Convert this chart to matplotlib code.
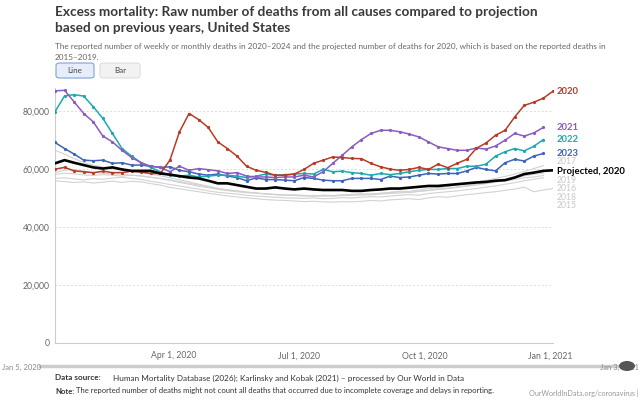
import matplotlib
matplotlib.use('Agg')
import matplotlib.pyplot as plt
from matplotlib.patches import FancyBboxPatch, Circle
from matplotlib.lines import Line2D
import pandas as pd

plt.rcParams['font.family'] = ['Lato', 'DejaVu Sans']

# weekly dates of 2020 (week ending), later years are mapped onto them
weeks = pd.date_range('2020-01-05', periods=53, freq='7D')

deaths_2020 = [60000, 60600, 59400, 59100, 58750, 59300, 58800, 58800, 59300, 59000,
               58500, 58500, 63100, 72900, 79200, 77100, 74400, 69400, 67100, 64500,
               61000, 59600, 58900, 57900, 57900, 58300, 59900, 62000, 63100, 64200,
               64000, 63700, 63600, 62000, 60800, 60000, 59600, 59900, 60600, 59900,
               61700, 60500, 62000, 63400, 67200, 69000, 71700, 73400, 78000, 82000,
               83100, 84500, 86900]
deaths_2021 = [87000, 87200, 83200, 79200, 76300, 71400, 69400, 66500, 64000, 62200,
               61000, 60600, 59100, 61000, 59600, 60200, 59800, 59400, 58500, 58800,
               57600, 57300, 57300, 57100, 57300, 57300, 57900, 57300, 59100, 62000,
               64800, 67700, 70200, 72300, 73400, 73400, 72900, 72100, 71100, 69400,
               67700, 67100, 66500, 66500, 67300, 66900, 68000, 70000, 72300, 71400,
               72500, 74400]
deaths_2022 = [79800, 85300, 85700, 85200, 81500, 77500, 72300, 67100, 64500, 62200,
               60600, 59100, 57900, 57600, 57900, 57300, 57600, 57900, 57900, 57600,
               57100, 57600, 58300, 57900, 58100, 58300, 58500, 58300, 59900, 59100,
               59300, 58800, 58500, 57900, 58500, 58100, 58500, 59100, 59600, 59900,
               59900, 60200, 60200, 61000, 61000, 61700, 64500, 66000, 67100, 66300,
               67900, 70200]
deaths_2023 = [69200, 67100, 65200, 63100, 62900, 63100, 62000, 62200, 61400, 61400,
               61000, 60600, 60800, 59600, 59100, 58300, 57900, 58300, 57600, 57100,
               56000, 57000, 56400, 56400, 56200, 56000, 57100, 56800, 56200, 56000,
               56000, 56800, 56800, 56800, 56400, 57600, 57100, 57300, 57900, 58500,
               58300, 58500, 58500, 59400, 60600, 59900, 59400, 62200, 63400, 62800,
               64500, 65400]
projected_2020 = [62000, 63100, 62200, 61400, 60600, 60200, 60600, 59900, 59400, 59400,
                  59400, 58500, 58100, 57600, 57100, 56800, 56000, 55100, 55100, 54500,
                  53900, 53300, 53300, 53700, 53300, 53000, 53300, 53000, 52800, 52800,
                  52800, 52500, 52500, 52800, 53000, 53300, 53300, 53600, 53900, 54200,
                  54200, 54500, 54800, 55100, 55400, 55600, 56000, 56200, 57100, 58300,
                  58800, 59400, 59600]

deaths_2015 = [56000, 55700, 55400, 55600, 55200, 55500, 55900, 55400, 55800, 55600,
               55000, 54500, 53700, 53200, 52700, 52200, 51700, 51200, 50800, 50400,
               50100, 49800, 49500, 49300, 49200, 49000, 48800, 48900, 48700, 48600,
               48800, 48700, 48900, 49200, 49000, 49400, 49600, 49800, 49500, 50100,
               50500, 50300, 50800, 51200, 51500, 51900, 52200, 52700, 53100, 53800,
               52200, 52800, 53300]
deaths_2016 = [56800, 57000, 56600, 56300, 56700, 56500, 56900, 57200, 56800, 56400,
               55800, 55300, 54700, 54200, 53600, 53100, 52500, 52000, 51700, 51400,
               51000, 50700, 50500, 50300, 50100, 50000, 49900, 50100, 49800, 49900,
               50200, 50000, 50300, 50500, 50400, 50700, 51000, 51200, 51000, 51600,
               51900, 52200, 52500, 52900, 53300, 53800, 54200, 54800, 55300, 56000,
               56500, 57000]
deaths_2017 = [58800, 59600, 59900, 59300, 58900, 58600, 58400, 58200, 57900, 57600,
               57200, 56700, 56100, 55400, 54800, 54100, 53600, 53000, 52600, 52200,
               51900, 51700, 51400, 51200, 51000, 51100, 50900, 50800, 51000, 50900,
               51100, 51300, 51500, 51400, 51700, 52000, 52400, 52300, 52800, 53300,
               53600, 54000, 54600, 55100, 55600, 56100, 56800, 57500, 58300, 59200,
               60200, 61200]
deaths_2018 = [66500, 65200, 63600, 62300, 61400, 60700, 60100, 59600, 59200, 58800,
               58300, 57700, 57000, 56300, 55600, 54800, 54100, 53400, 52900, 52500,
               52100, 51800, 51500, 51300, 51100, 51000, 50900, 50700, 50800, 50700,
               50900, 51000, 51200, 51100, 51400, 51600, 51800, 52000, 52300, 52600,
               53000, 53300, 53700, 54100, 54500, 55000, 55500, 56000, 56400, 57000,
               57300, 57800]
deaths_2019 = [58200, 58600, 58400, 58000, 57800, 58100, 57900, 57600, 57900, 57700,
               57200, 56800, 56300, 55700, 55100, 54500, 53900, 53300, 52800, 52400,
               52000, 51700, 51500, 51200, 51000, 50900, 50700, 50900, 50700, 50800,
               51000, 51200, 51100, 51400, 51600, 51900, 52100, 51900, 52400, 52700,
               53100, 53400, 53900, 54300, 54800, 55300, 55900, 56400, 57000, 57700,
               58200, 58600]

gray_years = {'2015': deaths_2015, '2016': deaths_2016, '2017': deaths_2017,
              '2018': deaths_2018, '2019': deaths_2019}
color_years = {'2023': (deaths_2023, '#3d64b8'), '2022': (deaths_2022, '#1fa8ae'),
               '2021': (deaths_2021, '#8b5cbf'), '2020': (deaths_2020, '#b83b26')}

W, H = 640, 400


def px(x, y):
    return x / W, 1 - y / H


fig = plt.figure(figsize=(6.4, 4.0), dpi=100)
ax = fig.add_axes([55 / W, 57 / H, 498 / W, 255 / H])

for yr, vals in gray_years.items():
    ax.plot(weeks[:len(vals)], vals, color='#d2d2d2', lw=0.8, zorder=1)

for yr, (vals, c) in color_years.items():
    ax.plot(weeks[:len(vals)], vals, color=c, lw=1.1, marker='o', ms=1.3, zorder=3)

ax.plot(weeks, projected_2020, color='black', lw=1.9, zorder=4)

ax.set_xlim(weeks[0], weeks[-1])
ax.set_ylim(0, 88000)
ax.set_yticks([0, 20000, 40000, 60000, 80000])
ax.set_yticklabels(['0', '20,000', '40,000', '60,000', '80,000'])
ax.set_xticks(pd.to_datetime(['2020-04-01', '2020-07-01', '2020-10-01', '2021-01-01']))
ax.set_xticklabels(['Apr 1, 2020', 'Jul 1, 2020', 'Oct 1, 2020', 'Jan 1, 2021'])
ax.tick_params(length=0, labelsize=6.2, colors='#666666', pad=4)
ax.tick_params(axis='x', pad=6)
for s in ['top', 'right']:
    ax.spines[s].set_visible(False)
ax.spines['left'].set_color('#cccccc')
ax.spines['bottom'].set_color('#cccccc')
ax.spines['left'].set_linewidth(0.8)
ax.spines['bottom'].set_linewidth(0.8)
ax.set_axisbelow(True)
ax.grid(axis='y', color='#dddddd', ls=(0, (2, 2)), lw=0.7)
ax.grid(axis='x', visible=False)

# line labels on the right
labels = [('2020', 91, '#b83b26', 'bold', 6.8), ('2021', 128, '#8b5cbf', 'bold', 6.8),
          ('2022', 140, '#1fa8ae', 'bold', 6.8), ('2023', 154, '#3d64b8', 'bold', 6.8),
          ('2017', 161.5, '#c8c8c8', 'normal', 6.2), ('Projected, 2020', 171, 'black', 'bold', 6.8),
          ('2019', 180.5, '#c8c8c8', 'normal', 6.2), ('2016', 189, '#c8c8c8', 'normal', 6.2),
          ('2018', 197.5, '#c8c8c8', 'normal', 6.2), ('2015', 206, '#c8c8c8', 'normal', 6.2)]
for txt, y, c, w, fs in labels:
    fig.text(*px(557, y), txt, color=c, fontsize=fs, fontweight=w, va='center', ha='left')

# title and subtitle
fig.text(*px(55, 12), 'Excess mortality: Raw number of deaths from all causes compared to projection',
         fontsize=9.8, fontweight='bold', color='#3a3a3a', va='center')
fig.text(*px(55, 28), 'based on previous years, United States',
         fontsize=9.8, fontweight='bold', color='#3a3a3a', va='center')
fig.text(*px(55, 46), 'The reported number of weekly or monthly deaths in 2020\u20132024 and the projected '
         'number of deaths for 2020, which is based on the reported deaths in',
         fontsize=5.9, color='#666666', va='center')
fig.text(*px(55, 57), '2015\u20132019.', fontsize=5.9, color='#666666', va='center')

# Line / Bar buttons
btn1 = FancyBboxPatch(px(56, 78), 38 / W, 15 / H, boxstyle='round,pad=0,rounding_size=0.006',
                      transform=fig.transFigure, fc='#e5eefa', ec='#7ea3d8', lw=0.8)
btn2 = FancyBboxPatch(px(100, 78), 40 / W, 15 / H, boxstyle='round,pad=0,rounding_size=0.006',
                      transform=fig.transFigure, fc='#f2f2f2', ec='#dddddd', lw=0.8)
fig.patches.extend([btn1, btn2])
fig.text(*px(75, 70.5), 'Line', fontsize=5.8, color='#444444', ha='center', va='center')
fig.text(*px(120, 70.5), 'Bar', fontsize=5.8, color='#444444', ha='center', va='center')

# timeline slider
fig.add_artist(Line2D([40 / W, 625 / W], [1 - 366 / H] * 2, transform=fig.transFigure,
                      color='#cccccc', lw=2.5, zorder=1))
fig.text(*px(2, 367), 'Jan 5, 2020', fontsize=5.5, color='#888888', va='center', zorder=2)
fig.text(*px(639, 367), 'Jan 3, 2021', fontsize=5.5, color='#888888', va='center', ha='right', zorder=2)
fig.add_artist(Circle(px(627, 366), 8 / W, transform=fig.transFigure,
                      fc='#555555', ec='none', zorder=3))

# footer
fig.canvas.draw()
rend = fig.canvas.get_renderer()
fig.text(*px(55, 378), 'Data source:', fontsize=5.9, fontweight='bold', color='#333333', va='center')
fig.text(*px(113, 378), 'Human Mortality Database (2026); Karlinsky and Kobak (2021) \u2013 '
         'processed by Our World in Data', fontsize=5.9, color='#333333', va='center')
t2 = fig.text(*px(55, 391), 'Note:', fontsize=5.5, fontweight='bold', color='#333333', va='center')
x_note = t2.get_window_extent(rend).x1 + 2
fig.text(x_note / W, 1 - 391 / H, 'The reported number of deaths might not count all deaths that occurred '
         'due to incomplete coverage and delays in reporting.', fontsize=5.5, color='#333333', va='center')
fig.text(*px(639, 393), 'OurWorldInData.org/coronavirus |', fontsize=5.2, color='#999999',
         va='center', ha='right')

fig.savefig('out.png', dpi=100)
